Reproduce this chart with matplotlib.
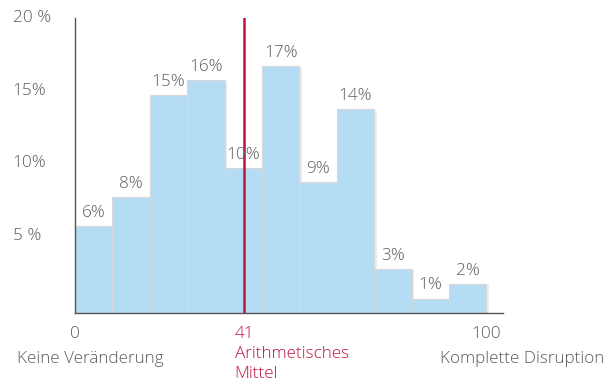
import matplotlib.pyplot as plt
import matplotlib.patheffects as pe
import numpy as np

plt.rcParams["font.family"] = ["Open Sans", "DejaVu Sans"]
plt.rcParams["font.weight"] = "light"

# share of answers per bin, 0 = no change ... 100 = complete disruption
shares = [6, 8, 15, 16, 10, 17, 9, 14, 3, 1, 2]
mean_value = 41
ytick_vals = [5, 10, 15, 20]
ytick_text = ["5 %", "10%", "15%", "20 %"]

BAR = "#b5dcf5"
RED = "#c0143c"
GREY = "#5c5c5c"
FS = 12.3

fig = plt.figure(figsize=(6.1, 3.88), dpi=100)
ax = fig.add_axes([0.123, 0.193, 0.702, 0.761])

n = len(shares)
w = 100 / n
lefts = np.arange(n) * w
bars = ax.bar(lefts, shares, width=w, align="edge", color=BAR,
              edgecolor="#d8d8d8", linewidth=0.8, zorder=2)
for b in bars:
    b.set_path_effects([pe.SimplePatchShadow(offset=(2, -1), shadow_rgbFace="#000000", alpha=0.08),
                        pe.Normal()])

for x, v in zip(lefts, shares):
    ax.text(x + w / 2, v + 0.35, f"{v}%", ha="center", va="bottom",
            fontsize=FS, color=GREY, zorder=4)

ax.set_xlim(0, 104.1)
ax.set_ylim(0, 20.3)

# mean marker
ax.axvline(mean_value, color=RED, lw=1.8, zorder=3)

for s in ["top", "right"]:
    ax.spines[s].set_visible(False)
for s in ["left", "bottom"]:
    ax.spines[s].set_color("#555555")
    ax.spines[s].set_linewidth(1)

ax.set_xticks([])
ax.set_yticks([])

# y labels, left aligned at the figure margin
for v, t in zip(ytick_vals, ytick_text):
    ax.annotate(t, xy=(0, v), xycoords=("axes fraction", "data"),
                xytext=(-45, 3), textcoords="offset points",
                ha="left", va="center", fontsize=FS, color=GREY)

# x labels
ax.annotate("0", xy=(0, 0), xycoords="data", xytext=(0, -9), textcoords="offset points",
            ha="center", va="top", fontsize=FS, color=GREY, annotation_clip=False)
ax.annotate("Keine Veränderung", xy=(0, 0), xycoords="data", xytext=(11, -27),
            textcoords="offset points", ha="center", va="top", fontsize=FS,
            color=GREY, annotation_clip=False)
ax.annotate("100", xy=(100, 0), xycoords="data", xytext=(0, -9), textcoords="offset points",
            ha="center", va="top", fontsize=FS, color=GREY, annotation_clip=False)
ax.annotate("Komplette Disruption", xy=(100, 0), xycoords="data", xytext=(26, -27),
            textcoords="offset points", ha="center", va="top", fontsize=FS,
            color=GREY, annotation_clip=False)
ax.annotate(f"{mean_value}\nArithmetisches\nMittel", xy=(mean_value, 0), xycoords="data",
            xytext=(-6.5, -9), textcoords="offset points", ha="left", va="top",
            fontsize=FS, color=RED, linespacing=1.35, annotation_clip=False)

fig.savefig("out.png", dpi=100)
